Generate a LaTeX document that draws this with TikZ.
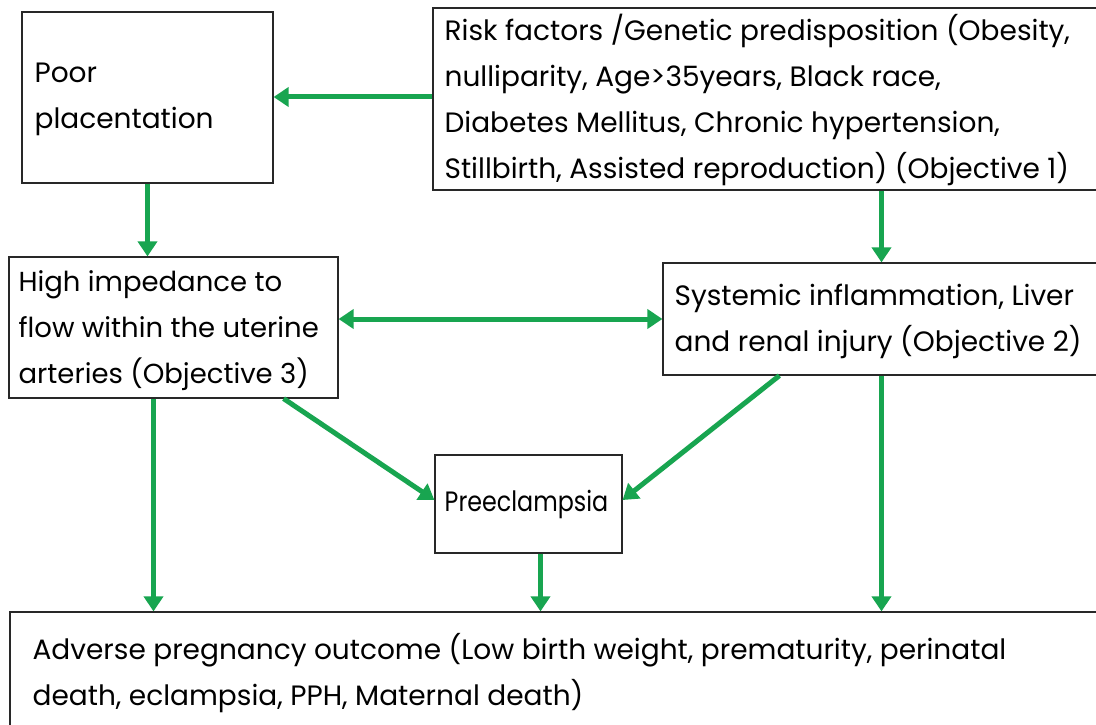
\documentclass[tikz,border=0pt]{standalone}
\usepackage{fontspec}
\usepackage{graphicx}
\setmainfont{Poppins}
\usetikzlibrary{arrows.meta}
\definecolor{arrgreen}{RGB}{24,165,80}
\definecolor{boxline}{RGB}{40,40,40}
\tikzset{
  box/.style={draw=boxline, line width=1.2pt, fill=white, inner sep=0pt},
  txt/.style={inner sep=0pt, align=left, anchor=west, font=\fontsize{28}{46}\selectfont},
  conn/.style={draw=arrgreen, line width=5pt, -{Triangle[length=15pt,width=19pt]}},
  biconn/.style={draw=arrgreen, line width=5pt, {Triangle[length=15pt,width=19pt]}-{Triangle[length=15pt,width=19pt]}}
}
\begin{document}
\begin{tikzpicture}[x=1pt,y=-1pt]
\useasboundingbox (0,0) rectangle (1096,725);
\clip (0,0) rectangle (1096,725);
\fill[white] (0,0) rectangle (1096,725);

\node[box, minimum width=251pt, minimum height=171pt] (poor) at (147.5,97.5) {};
\node[txt] (poor-t) at ([xshift=13pt,yshift=-2pt]poor.west) {Poor\\placentation};

\node[box, minimum width=667pt, minimum height=182pt] (risk) at (766.5,99) {};
\node[txt] (risk-t) at ([xshift=12pt,yshift=-1pt]risk.west)
  {Risk factors /Genetic predisposition (Obesity,\\nulliparity, Age>35years, Black race,\\Diabetes Mellitus, Chronic hypertension,\\Stillbirth, Assisted reproduction) (Objective 1)};

\node[box, minimum width=329pt, minimum height=141pt] (high) at (173.5,327.5) {};
\node[txt, font=\fontsize{27.5}{46}\selectfont] (high-t) at ([xshift=10pt,yshift=-3pt]high.west)
  {High impedance to\\flow within the uterine\\arteries (Objective 3)};

\node[box, minimum width=437pt, minimum height=112pt] (sys) at (881.5,319) {};
\node[txt] (sys-t) at ([xshift=12pt,yshift=-2pt]sys.west)
  {Systemic inflammation, Liver\\and renal injury (Objective 2)};

\node[box, minimum width=187pt, minimum height=98pt] (pre) at (528.5,504) {};
\node[txt, anchor=center, font=\fontsize{28}{46}\selectfont] (pre-t) at ([xshift=-2pt]pre.center) {\scalebox{0.85}[1]{Preeclampsia}};

\node[box, minimum width=1090pt, minimum height=123pt] (adv) at (555,673.5) {};
\node[txt] (adv-t) at ([xshift=23pt]adv.west)
  {Adverse pregnancy outcome (Low birth weight, prematurity, perinatal\\death, eclampsia, PPH, Maternal death)};

\draw[conn] ([yshift=2pt]risk.west) -- ([yshift=2pt]poor.east |- risk.west);
\draw[conn] (poor.south) -- (poor.south |- high.north);
\draw[conn] (sys.north |- risk.south) -- (sys.north);
\draw[biconn] (high.east |- sys.west) -- (sys.west);
\draw[conn] ([xshift=-55pt]high.south east) -- ([yshift=4pt]pre.west);
\draw[conn] ([xshift=117pt]sys.south west) -- ([yshift=4pt]pre.east);
\draw[conn] ([xshift=-20pt]high.south) -- ([xshift=-20pt]high.south |- adv.north);
\draw[conn] ([xshift=12pt]pre.south) -- ([xshift=12pt]pre.south |- adv.north);
\draw[conn] (sys.south) -- (sys.south |- adv.north);
\end{tikzpicture}
\end{document}
